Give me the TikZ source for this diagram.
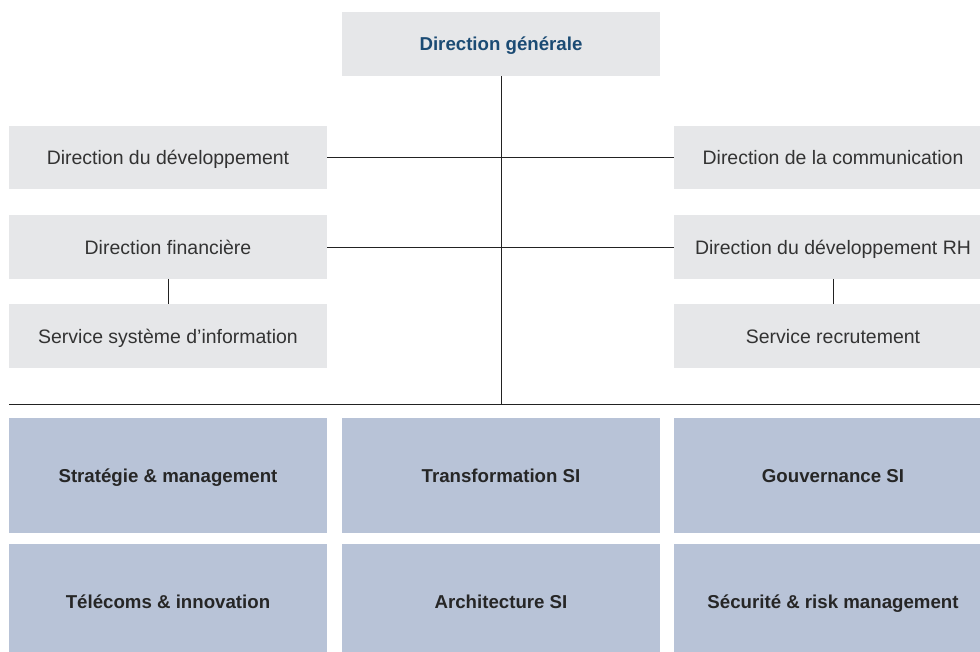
\documentclass[tikz,border=0pt]{standalone}
\usepackage{fontspec}
\setmainfont{Liberation Sans}
\definecolor{boxgray}{HTML}{E6E7E9}
\definecolor{boxblue}{HTML}{B8C3D7}
\definecolor{titleblue}{HTML}{1B4B74}
\definecolor{txtgray}{HTML}{333333}
\definecolor{linecol}{HTML}{222222}
\begin{document}
\begin{tikzpicture}[x=0.75pt,y=-0.75pt,
  graybox/.style={fill=boxgray,draw=none,inner sep=0pt,minimum width=238.5pt,minimum height=47.5pt,font=\fontsize{14.6}{16}\selectfont,text=txtgray,text height=10.5pt,text depth=0pt},
  bluebox/.style={fill=boxblue,draw=none,inner sep=0pt,minimum width=238.5pt,minimum height=86.25pt,font=\fontsize{14}{16}\selectfont\bfseries,text=black!85,text height=10pt,text depth=0pt},
  conn/.style={draw=linecol,line width=0.7pt}]
\useasboundingbox (0,0) rectangle (980,652);
\clip (0,0) rectangle (980,652);
\node[graybox,minimum height=48pt,text=titleblue,font=\fontsize{14}{16}\selectfont\bfseries,text height=10pt] (dg) at (501,44) {Direction générale};
\node[graybox] (dd) at (168,157.5) {Direction du développement};
\node[graybox] (df) at (168,247) {Direction financière};
\node[graybox] (ssi) at (168,336) {Service système d’information};
\node[graybox] (dc) at (833,157.5) {Direction de la communication};
\node[graybox] (drh) at (833,247) {Direction du développement RH};
\node[graybox] (sr) at (833,336) {Service recrutement};
\node[bluebox] (sm) at (168,475.5) {Stratégie \& management};
\node[bluebox] (ts) at (501,475.5) {Transformation SI};
\node[bluebox] (gs) at (833,475.5) {Gouvernance SI};
\node[bluebox] (ti) at (168,601.5) {Télécoms \& innovation};
\node[bluebox] (as) at (501,601.5) {Architecture SI};
\node[bluebox] (sr2) at (833,601.5) {Sécurité \& risk management};
\coordinate (hl) at (9,404.5);
\coordinate (hr) at (980,404.5);
\draw[conn] (hl) -- (hr);
\draw[conn] (dg.south) -- (dg.south |- hl);
\draw[conn] (dd.east) -- (dc.west);
\draw[conn] (df.east) -- (drh.west);
\draw[conn] (df.south) -- (ssi.north);
\draw[conn] (drh.south) -- (sr.north);
\end{tikzpicture}
\end{document}
